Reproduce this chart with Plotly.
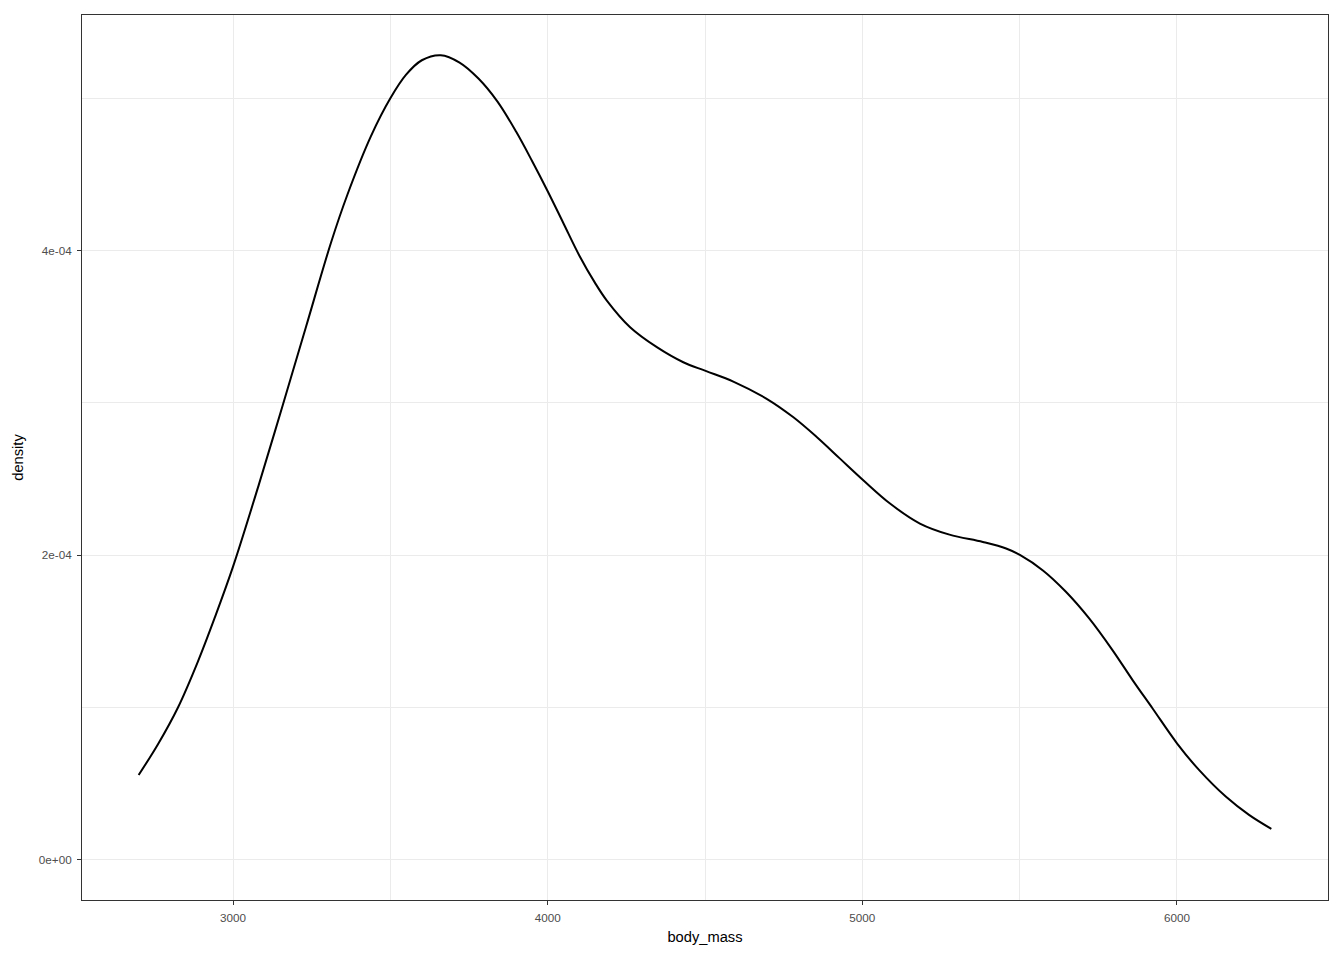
import plotly.graph_objects as go

body_mass = [2700, 2761, 2825, 2888, 2941, 3000, 3083, 3158, 3232, 3311, 3364, 3438, 3500,
             3550, 3600, 3660, 3720, 3780, 3840, 3900, 3950, 4000, 4050, 4100, 4150, 4188,
             4262, 4347, 4431, 4502, 4590, 4696, 4780, 4855, 4929, 5003, 5088, 5183, 5277,
             5383, 5457, 5502, 5574, 5647, 5721, 5795, 5859, 5922, 6000, 6070, 6155, 6229, 6300]
density_e4 = [0.557, 0.757, 1.0, 1.30, 1.585, 1.925, 2.47, 2.985, 3.50, 4.05, 4.37, 4.75, 5.0,
              5.155, 5.25, 5.283, 5.235, 5.13, 4.98, 4.78, 4.59, 4.39, 4.18, 3.97, 3.79, 3.672,
              3.497, 3.366, 3.267, 3.21, 3.14, 3.027, 2.907, 2.776, 2.634, 2.492, 2.339, 2.208, 2.135,
              2.087, 2.044, 2.0, 1.90, 1.76, 1.585, 1.377, 1.18, 0.995, 0.765, 0.59, 0.415, 0.295, 0.203]
density = [v * 1e-4 for v in density_e4]

x_ticks = [3000, 4000, 5000, 6000]
x_minor = [2500, 3500, 4500, 5500, 6500]
y_ticks = [0, 2e-4, 4e-4]
y_tick_labels = ["0e+00", "2e-04", "4e-04"]
y_minor = [1e-4, 3e-4, 5e-4]

fig = go.Figure()
fig.add_trace(go.Scatter(x=body_mass, y=density, mode="lines",
                         line=dict(color="black", width=2, shape="spline", smoothing=1.0),
                         showlegend=False, hoverinfo="skip"))

ymax = max(density)
pad_y = 0.05 * ymax
xmin, xmax = min(body_mass), max(body_mass)
pad_x = 0.05 * (xmax - xmin)

font = "Liberation Sans, Arial, sans-serif"
fig.update_layout(
    width=1328, height=944,
    margin=dict(l=74, r=8, t=7, b=52),
    paper_bgcolor="white", plot_bgcolor="white",
    font=dict(family=font, color="black"),
    xaxis=dict(
        range=[xmin - pad_x, xmax + pad_x],
        tickvals=x_ticks, ticktext=[str(v) for v in x_ticks],
        showgrid=True, gridcolor="#EBEBEB", gridwidth=1.4,
        minor=dict(tickvals=x_minor, showgrid=True, gridcolor="#EBEBEB", gridwidth=0.7, ticks=""),
        ticks="outside", ticklen=4, tickwidth=1.4, tickcolor="#333333",
        ticklabelstandoff=3,
        tickfont=dict(size=11.7, color="#4D4D4D", family=font),
        showline=True, mirror=True, linecolor="#333333", linewidth=1,
        zeroline=False,
        title=dict(text="body_mass", font=dict(size=14.7, color="black", family=font), standoff=8),
    ),
    yaxis=dict(
        range=[-pad_y, ymax + pad_y],
        tickvals=y_ticks, ticktext=y_tick_labels,
        showgrid=True, gridcolor="#EBEBEB", gridwidth=1.4,
        minor=dict(tickvals=y_minor, showgrid=True, gridcolor="#EBEBEB", gridwidth=0.7, ticks=""),
        ticks="outside", ticklen=4, tickwidth=1.4, tickcolor="#333333",
        ticklabelstandoff=3,
        tickfont=dict(size=11.7, color="#4D4D4D", family=font),
        showline=True, mirror=True, linecolor="#333333", linewidth=1,
        zeroline=False,
        title=dict(text="density", font=dict(size=14.7, color="black", family=font), standoff=11),
    ),
)

fig.write_html("out.html")
